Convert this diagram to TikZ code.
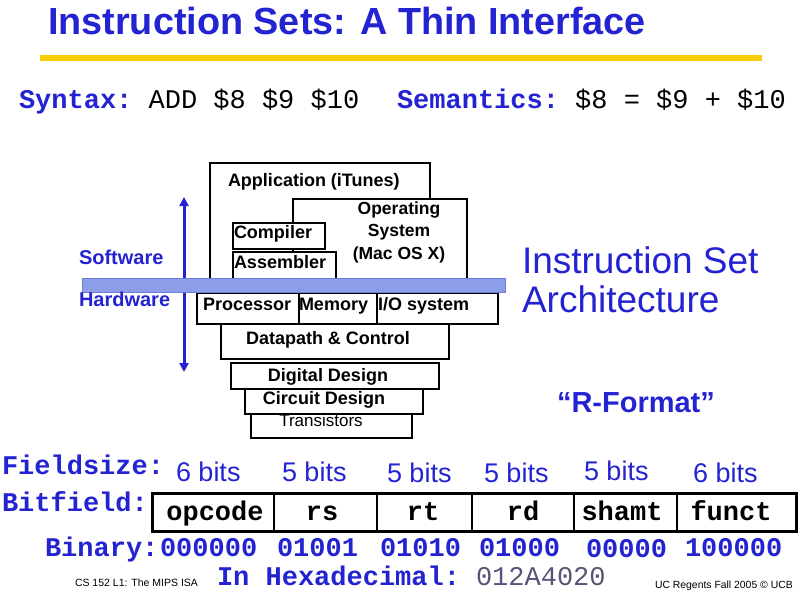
\documentclass[tikz,border=0pt]{standalone}
\usepackage{fontspec}
\setmainfont{Liberation Sans}
\newfontfamily\monofont{Liberation Mono}
\usetikzlibrary{arrows.meta}
\definecolor{tblue}{RGB}{35,35,210}
\definecolor{titleyellow}{RGB}{250,205,10}
\definecolor{isabar}{RGB}{140,158,232}
\definecolor{isaedge}{RGB}{110,125,215}
\definecolor{hexgray}{RGB}{85,85,120}
\begin{document}
\begin{tikzpicture}[x=1pt,y=-1pt,
  txt/.style={inner sep=0pt, outer sep=0pt},
  box/.style={draw=black, line width=2.4pt, fill=white},
  lbl/.style={txt, font=\fontsize{18}{20}\selectfont\bfseries},
  monob/.style={txt, text=tblue, font=\monofont\fontsize{27}{29}\selectfont\bfseries},
  monor/.style={txt, font=\monofont\fontsize{27}{29}\selectfont},
  bits/.style={txt, text=tblue, font=\fontsize{27}{29}\selectfont, anchor=base west},
  field/.style={txt, font=\monofont\fontsize{27}{29}\selectfont\bfseries, anchor=base},
  small/.style={txt, font=\fontsize{10.5}{12}\selectfont, anchor=base west}
]
\useasboundingbox (0,0) rectangle (800,600);

% title
\node[txt, anchor=base west, text=tblue, font=\fontsize{37.8}{40}\selectfont\bfseries] (title) at (48,34) {Instruction Sets: A Thin Interface};
\coordinate (yl) at (40,58);
\coordinate (yr) at (762,58);
\draw[draw=titleyellow, line width=6pt] (yl) -- (yr);

% syntax / semantics
\node[monob, anchor=base west] (syn) at (19,108) {Syntax:};
\node[monor, anchor=base west] (synv) at (syn.base east) {\ ADD \$8 \$9 \$10};
\node[monob, anchor=base west] (sem) at (397,108) {Semantics:};
\node[monor, anchor=base west] (semv) at (sem.base east) {\ \$8 = \$9 + \$10};

% software layers
\node[box, minimum width=220pt, minimum height=130pt, anchor=north west] (app) at (209,162) {};
\node[lbl, anchor=base west] (appt) at (228,186) {Application (iTunes)};
\node[box, minimum width=174pt, minimum height=90pt, anchor=north west] (os) at (292,198) {};
\node[lbl, align=center, anchor=base, font=\fontsize{17.5}{22.5}\selectfont\bfseries] (ost) at (399,259) {Operating\\System\\(Mac OS X)};
\node[box, minimum width=92pt, minimum height=26pt, anchor=north west] (comp) at (232,222) {};
\node[lbl, anchor=base west] (compt) at (234,238) {Compiler};
\node[box, minimum width=103pt, minimum height=28pt, anchor=north west] (asm) at (232,251) {};
\node[lbl, anchor=base west] (asmt) at (234,268) {Assembler};

% hardware layers
\node[box, minimum width=228pt, minimum height=35pt, anchor=north west] (dp) at (220,323) {};
\node[lbl, anchor=base] (dpt) at (328,344) {Datapath \& Control};
\node[box, minimum width=102pt, minimum height=31pt, anchor=north west] (proc) at (196,292) {};
\node[box, minimum width=78pt, minimum height=31pt, anchor=north west] (mem) at (298,292) {};
\node[box, minimum width=121pt, minimum height=31pt, anchor=north west] (io) at (376,292) {};
\node[lbl, anchor=base west] (proct) at (203,310) {Processor};
\node[lbl, anchor=base west] (memt) at (299,310) {Memory};
\node[lbl, anchor=base west] (iot) at (378,310) {I/O system};
\node[box, minimum width=161pt, minimum height=24pt, anchor=north west] (tr) at (250,413) {};
\node[box, minimum width=178pt, minimum height=25pt, anchor=north west] (cd) at (244,388) {};
\node[box, minimum width=208pt, minimum height=26pt, anchor=north west] (dd) at (230,362) {};
\node[lbl, anchor=base] (ddt) at (328,381) {Digital Design};
\node[lbl, anchor=base] (cdt) at (324,404) {Circuit Design};
\node[txt, font=\fontsize{17}{19}\selectfont, anchor=base] (trt) at (321,426) {Transistors};

% arrow
\coordinate (atop) at (184,197);
\coordinate (abot) at (184,372);
\draw[tblue, line width=3pt, {Triangle[length=9pt,width=9pt]}-{Triangle[length=9pt,width=9pt]}] (atop) -- (abot);

% ISA bar
\node[draw=isaedge, fill=isabar, line width=0.8pt, minimum width=423pt, minimum height=14pt, anchor=north west, inner sep=0] (isa) at (82,278) {};

\node[txt, text=tblue, font=\fontsize{20}{22}\selectfont\bfseries, anchor=base west] (sw) at (79,264) {Software};
\node[txt, text=tblue, font=\fontsize{20}{22}\selectfont\bfseries, anchor=base west] (hw) at (79,306) {Hardware};

\node[txt, text=tblue, font=\fontsize{37}{39}\selectfont, align=left, anchor=base west] (isat) at (522,312) {Instruction Set\\Architecture};
\node[txt, text=tblue, font=\fontsize{29}{31}\selectfont\bfseries, anchor=base west] (rf) at (557,412) {“R-Format”};

% fields
\node[monob, anchor=base west] (fs) at (2,474) {Fieldsize:};
\node[bits] (b1) at (176,481) {6 bits};
\node[bits] (b2) at (282,481) {5 bits};
\node[bits] (b3) at (387,482) {5 bits};
\node[bits] (b4) at (484,482) {5 bits};
\node[bits] (b5) at (584,480) {5 bits};
\node[bits] (b6) at (693,482) {6 bits};

\node[monob, anchor=base west] (bf) at (2,511) {Bitfield:};
\draw[line width=3pt] (152,493) rectangle (796,531);
\node[txt, minimum width=122pt, minimum height=38pt, anchor=north west] (fop) at (152,493) {};
\node[txt, minimum width=103pt, minimum height=38pt, anchor=north west] (frs) at (274,493) {};
\node[txt, minimum width=95pt, minimum height=38pt, anchor=north west] (frt) at (377,493) {};
\node[txt, minimum width=102pt, minimum height=38pt, anchor=north west] (frd) at (472,493) {};
\node[txt, minimum width=103pt, minimum height=38pt, anchor=north west] (fsh) at (574,493) {};
\node[txt, minimum width=119pt, minimum height=38pt, anchor=north west] (ffu) at (677,493) {};
\foreach \c in {frs,frt,frd,fsh,ffu} \draw[line width=2pt] (\c.north west) -- (\c.south west);
\node[field] (top) at (215,520) {opcode};
\node[field] (trs) at (322,520) {rs};
\node[field] (trt2) at (423,520) {rt};
\node[field] (trd) at (523,520) {rd};
\node[field] (tsh) at (622,520) {shamt};
\node[field] (tfu) at (731,520) {funct};

\node[monob, anchor=base west] (bin) at (45,556) {Binary:};
\node[monob, anchor=base west] (v1) at (160,556) {000000};
\node[monob, anchor=base west] (v2) at (277,556) {01001};
\node[monob, anchor=base west] (v3) at (380,556) {01010};
\node[monob, anchor=base west] (v4) at (479,556) {01000};
\node[monob, anchor=base west] (v5) at (586,557) {00000};
\node[monob, anchor=base west] (v6) at (685,556) {100000};

\node[monob, anchor=base west] (hex) at (217,585) {In Hexadecimal:};
\node[monor, text=hexgray, anchor=base west] (hexv) at (476,585) {012A4020};

\node[small] (cs) at (75,586) {CS 152 L1: The MIPS ISA};
\node[small, font=\fontsize{10.4}{12}\selectfont] (uc) at (655,588) {UC Regents Fall 2005 © UCB};
\end{tikzpicture}
\end{document}
